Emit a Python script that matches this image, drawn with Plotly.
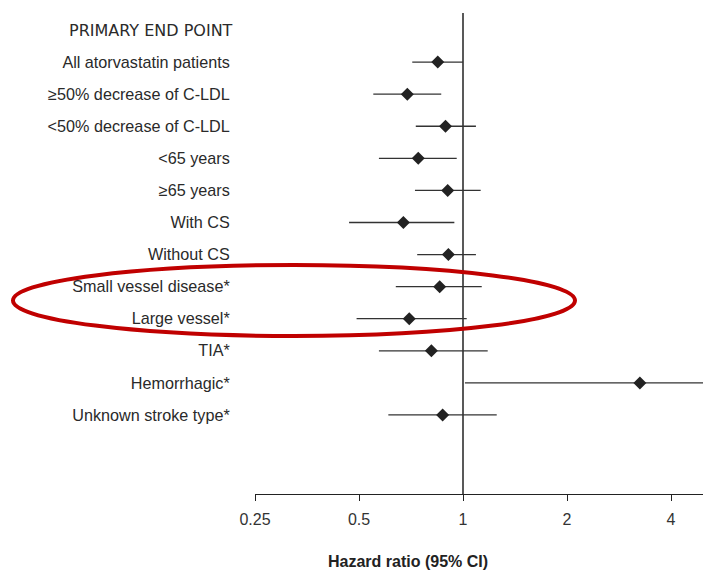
import math
import plotly.graph_objects as go

# ---- data ----
header = "PRIMARY END POINT"
labels = ["", "All atorvastatin patients", "≥50% decrease of C-LDL",
          "<50% decrease of C-LDL", "<65 years", "≥65 years", "With CS", "Without CS",
          "Small vessel disease*", "Large vessel*", "TIA*", "Hemorrhagic*", "Unknown stroke type*"]
hr =   [None, 0.845, 0.69, 0.89, 0.742, 0.903, 0.672, 0.907, 0.856, 0.699, 0.81, 3.25, 0.873]
low =  [None, 0.713, 0.55, 0.73, 0.571, 0.726, 0.468, 0.737, 0.639, 0.492, 0.571, 1.013, 0.608]
high = [None, 1.00, 0.865, 1.09, 0.959, 1.125, 0.944, 1.09, 1.133, 1.025, 1.179, 6.5, 1.252]
tick_vals = [0.25, 0.5, 1, 2, 4]
tick_text = ["0.25", "0.5", "1", "2", "4"]

# ---- layout geometry (pixels) ----
W, H = 703, 571
AX_L, AX_B, AX_T = 255, 494, 13
L, T, B, R = AX_L, AX_T, H - AX_B, 0
pw, ph = W - L - R, H - T - B

def paper_x(px):
    return (px - L) / pw

def paper_y(py):
    return (H - B - py) / ph

rows = list(range(len(labels)))
idx = [i for i in rows if hr[i] is not None]
ROW0, ROWSTEP = 30, 32.08

fig = go.Figure()

# reference line at HR = 1
fig.add_trace(go.Scatter(x=[1, 1], y=[-0.6, 14.6], mode="lines",
                         line=dict(color="#222222", width=1.5),
                         hoverinfo="skip", showlegend=False))

fig.add_trace(go.Scatter(
    x=[hr[i] for i in idx], y=idx, mode="markers",
    marker=dict(symbol="diamond", size=10, color="#222222"),
    error_x=dict(type="data", symmetric=False,
                 array=[high[i] - hr[i] for i in idx],
                 arrayminus=[hr[i] - low[i] for i in idx],
                 color="#333333", thickness=1.3, width=0),
    showlegend=False))

fig.update_layout(
    width=W, height=H,
    margin=dict(l=L, r=R, t=T, b=B),
    paper_bgcolor="white", plot_bgcolor="white",
    font=dict(family="Liberation Sans, Arial, sans-serif", size=16.2, color="#333333"),
    xaxis=dict(type="log", range=[math.log10(0.25), math.log10(0.25 * 2 ** (pw / 104))],
               tickvals=tick_vals, ticktext=tick_text,
               showgrid=False, zeroline=False,
               showline=True, linecolor="#222222", linewidth=1.3,
               ticks="outside", ticklen=6, tickwidth=1.3, tickcolor="#222222",
               ticklabelstandoff=5,
               tickfont=dict(size=16, color="#333333")),
    yaxis=dict(range=[(AX_B - ROW0) / ROWSTEP, (AX_T - ROW0) / ROWSTEP],
               tickvals=rows, ticktext=labels,
               showgrid=False, zeroline=False, showline=False,
               ticks="outside", ticklen=21, tickcolor="rgba(0,0,0,0)",
               tickfont=dict(size=16.2, color="#2a2a2a")),
)

fig.add_annotation(text=header, xref="paper", yref="y",
                   x=paper_x(235), y=0, xanchor="right", yanchor="middle",
                   showarrow=False,
                   font=dict(family="DejaVu Sans, sans-serif", size=16, color="#2a2a2a"))

fig.add_annotation(text="<b>Hazard ratio (95% CI)</b>", xref="paper", yref="paper",
                   x=paper_x(408), y=paper_y(561), xanchor="center", yanchor="middle",
                   showarrow=False, font=dict(size=16, color="#222222"))

fig.add_shape(type="circle", xref="paper", yref="paper",
              x0=paper_x(13), x1=paper_x(575), y0=paper_y(336), y1=paper_y(265),
              line=dict(color="#c00000", width=4), layer="above")

fig.write_html("out.html", config={"displayModeBar": False},
               post_script="document.body.style.margin='0';document.body.style.overflow='hidden';")
